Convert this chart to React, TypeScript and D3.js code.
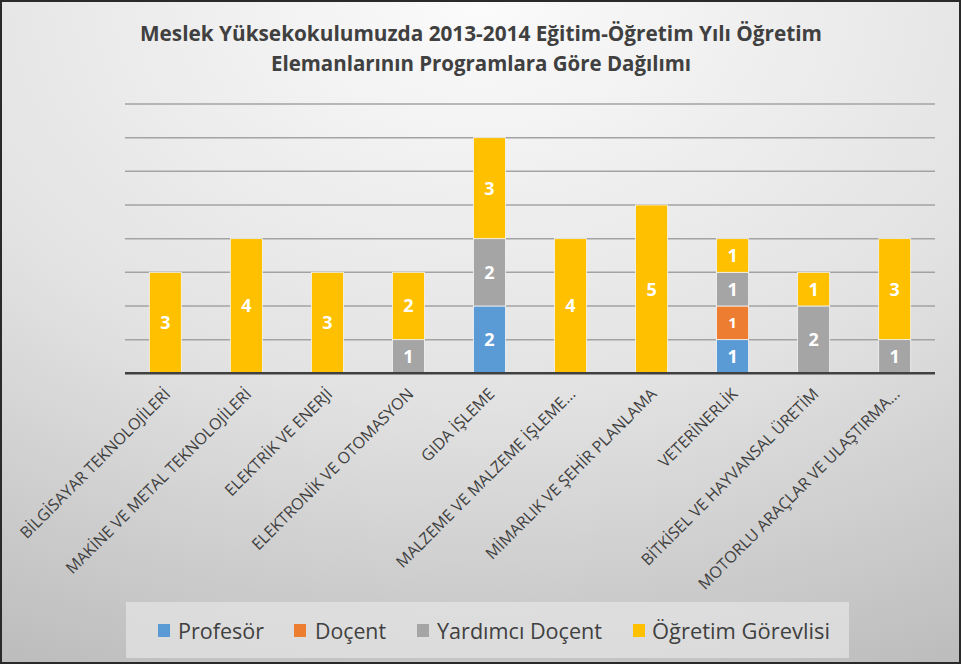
import React from "react";
import * as d3 from "d3";

const categories = [
  "BİLGİSAYAR TEKNOLOJİLERİ",
  "MAKİNE VE METAL TEKNOLOJİLERİ",
  "ELEKTRİK VE ENERJİ",
  "ELEKTRONİK VE OTOMASYON",
  "GIDA İŞLEME",
  "MALZEME VE MALZEME İŞLEME...",
  "MİMARLIK VE ŞEHİR PLANLAMA",
  "VETERİNERLİK",
  "BİTKİSEL VE HAYVANSAL ÜRETİM",
  "MOTORLU ARAÇLAR VE ULAŞTIRMA...",
];
const seriesNames = ["Profesör", "Doçent", "Yardımcı Doçent", "Öğretim Görevlisi"];
const profesor = [0, 0, 0, 0, 2, 0, 0, 1, 0, 0];
const docent = [0, 0, 0, 0, 0, 0, 0, 1, 0, 0];
const yardimciDocent = [0, 0, 0, 1, 2, 0, 0, 1, 2, 1];
const ogretimGorevlisi = [3, 4, 3, 2, 3, 4, 5, 1, 1, 3];
const yTicks = [0, 1, 2, 3, 4, 5, 6, 7, 8];
const titleLines = [
  "Meslek Yüksekokulumuzda  2013-2014 Eğitim-Öğretim Yılı Öğretim",
  "Elemanlarının  Programlara  Göre Dağılımı",
];

const colors = ["#5B9BD5", "#ED7D31", "#A5A5A5", "#FFC000"];
const W = 961;
const H = 664;
const FONT = "'Open Sans', 'Noto Sans', sans-serif";

export default function App() {
  const series = [profesor, docent, yardimciDocent, ogretimGorevlisi];
  const x = d3.scaleBand<string>().domain(categories).range([125, 935]).paddingInner(0.605).paddingOuter(0.3);
  const y = d3.scaleLinear().domain([0, 8]).range([373.3, 104]);

  const rows = categories.map((c, i) => {
    const r: any = { cat: c };
    seriesNames.forEach((s, k) => (r[s] = series[k][i]));
    return r;
  });
  const stacked = d3.stack().keys(seriesNames)(rows);

  const legendSq = [158, 294, 417, 633];
  const legendTx = [178, 315, 437, 652];
  const legendLen = [86, 71, 165, 178];

  return (
    <svg width={W} height={H} style={{ position: "absolute", left: 0, top: 0 }} fontFamily={FONT}>
      <defs>
        <radialGradient id="bg" cx="50%" cy="0%" r="110%" fx="50%" fy="0%">
          <stop offset="0%" stopColor="#fbfbfb" />
          <stop offset="55%" stopColor="#e2e2e2" />
          <stop offset="100%" stopColor="#bdbdbd" />
        </radialGradient>
      </defs>
      <rect x={0} y={0} width={W} height={H} fill="url(#bg)" />
      <rect x={1} y={1} width={W - 2} height={H - 2} fill="none" stroke="#2a2a2a" strokeWidth={2} />

      <text x={481} y={41} textAnchor="middle" fontSize={22} fontWeight="bold" fill="#404040" textLength={682} lengthAdjust="spacingAndGlyphs">
        {titleLines[0]}
      </text>
      <text x={481} y={71} textAnchor="middle" fontSize={22} fontWeight="bold" fill="#404040" textLength={420} lengthAdjust="spacingAndGlyphs">
        {titleLines[1]}
      </text>

      {yTicks.slice(1).map((t) => (
        <line key={t} x1={125} x2={935} y1={y(t)} y2={y(t)} stroke="#a3a3a3" strokeWidth={1.5} />
      ))}

      {stacked.map((layer, k) => (
        <g key={layer.key}>
          {layer.map((d, i) => {
            const v = d[1] - d[0];
            if (v <= 0) return null;
            const bx = x(categories[i])!;
            const y0 = y(d[0]);
            const y1 = y(d[1]);
            return (
              <g key={i}>
                <rect x={bx} y={y1} width={x.bandwidth()} height={y0 - y1} fill={colors[k]} stroke="#f4f4f4" strokeWidth={0.8} />
                <text
                  x={bx + x.bandwidth() / 2}
                  y={(y0 + y1) / 2}
                  dy="0.36em"
                  textAnchor="middle"
                  fontSize={k === 1 ? 15 : 18}
                  fontWeight="bold"
                  fill="#ffffff"
                >
                  {v}
                </text>
              </g>
            );
          })}
        </g>
      ))}

      <line x1={125} x2={935} y1={y(0)} y2={y(0)} stroke="#404040" strokeWidth={2.5} />

      {categories.map((c) => {
        const cx = x(c)! + x.bandwidth() / 2;
        return (
          <text
            key={c}
            transform={`translate(${cx + 6},${395}) rotate(-45)`}
            textAnchor="end"
            fontSize={16}
            fill="#404040"
          >
            {c}
          </text>
        );
      })}

      <rect x={126} y={602} width={723} height={56} fill="#e6e6e6" fillOpacity={0.7} />
      {seriesNames.map((s, k) => (
        <g key={s}>
          <rect x={legendSq[k]} y={624} width={12} height={13} fill={colors[k]} />
          <text x={legendTx[k]} y={631} dy="0.36em" fontSize={21} fill="#404040" textLength={legendLen[k]} lengthAdjust="spacingAndGlyphs">
            {s}
          </text>
        </g>
      ))}
    </svg>
  );
}
